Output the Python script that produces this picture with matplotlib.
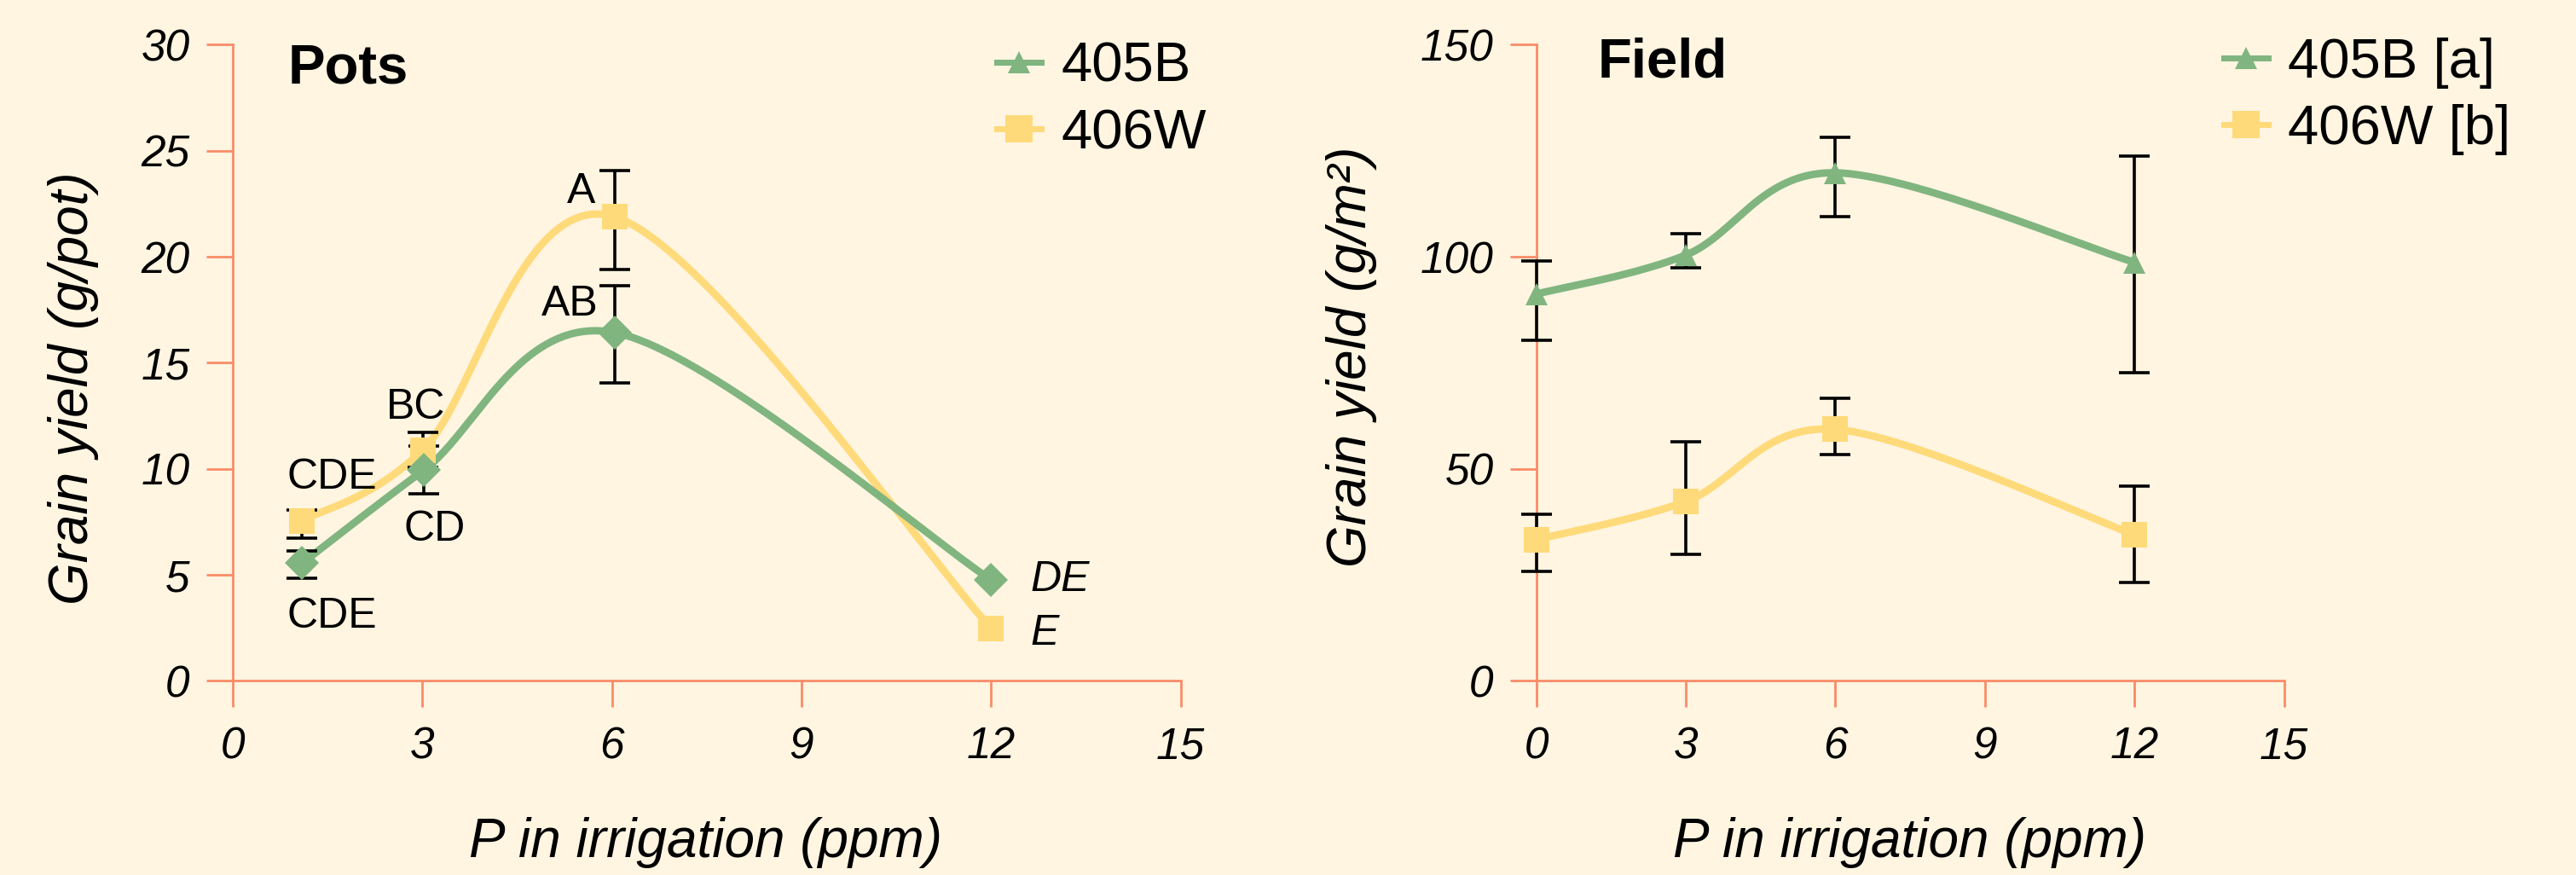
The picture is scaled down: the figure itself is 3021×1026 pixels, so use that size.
import numpy as np
import matplotlib
matplotlib.use("Agg")
import matplotlib.pyplot as plt
from matplotlib.lines import Line2D

plt.rcParams['font.family'] = ['Liberation Sans', 'DejaVu Sans']

BG = '#FFF5E1'
GREEN = '#80B580'
YELLOW = '#FFDA7A'
AXC = '#F98C68'

# ---------------- data: Pots ----------------
pots_x_405B = [1.1, 3.03, 6.05, 12.0]
pots_y_405B = [5.55, 9.95, 16.42, 4.76]
pots_lo_405B = [0.72, 1.13, 2.36, 0.0]
pots_hi_405B = [0.59, 1.13, 2.22, 0.0]

pots_x_406W = [1.1, 3.01, 6.05, 12.0]
pots_y_406W = [7.55, 10.89, 21.88, 2.48]
pots_lo_406W = [0.81, 0.83, 2.49, 0.0]
pots_hi_406W = [0.5, 0.83, 2.18, 0.0]

pots_letters = ['CDE', 'CDE', 'BC', 'CD', 'A', 'AB', 'DE', 'E']
pots_letter_pos = [(0.86, 9.05), (0.86, 2.51), (2.43, 12.35), (2.71, 6.60),
                   (5.74, 22.52), (5.79, 17.23), (12.62, 4.24), (12.62, 1.71)]
pots_letter_ha = ['left', 'left', 'left', 'left', 'right', 'right', 'left', 'left']
pots_letter_italic = [False, False, False, False, False, False, True, True]

# ---------------- data: Field ----------------
field_x = [0, 3, 6, 12]
field_y_405B = [91.2, 100.4, 119.8, 98.7]
field_lo_405B = [10.9, 3.0, 10.3, 26.1]
field_hi_405B = [7.8, 5.0, 8.4, 25.0]
field_y_406W = [33.3, 42.3, 59.3, 34.5]
field_lo_406W = [7.5, 12.5, 5.9, 11.2]
field_hi_406W = [5.9, 14.0, 7.4, 11.4]

x_ticks = [0, 3, 6, 9, 12, 15]
pots_y_ticks = [0, 5, 10, 15, 20, 25, 30]
field_y_ticks = [0, 50, 100, 150]


def catmull_rom(x, y, n=80):
    """Uniform parametric Catmull-Rom curve through the points (ends repeated)."""
    P = np.column_stack([np.asarray(x, float), np.asarray(y, float)])
    P = np.vstack([P[0], P, P[-1]])
    out = []
    t = np.linspace(0, 1, n)[:, None]
    h00 = 2 * t ** 3 - 3 * t ** 2 + 1
    h10 = t ** 3 - 2 * t ** 2 + t
    h01 = -2 * t ** 3 + 3 * t ** 2
    h11 = t ** 3 - t ** 2
    for i in range(1, len(P) - 2):
        p1, p2 = P[i], P[i + 1]
        m1 = (P[i + 1] - P[i - 1]) / 2
        m2 = (P[i + 2] - P[i]) / 2
        seg = h00 * p1 + h10 * m1 + h01 * p2 + h11 * m2
        out.append(seg if i == 1 else seg[1:])
    c = np.vstack(out)
    return c[:, 0], c[:, 1]


W, H = 3021, 1026
fig = plt.figure(figsize=(W / 100, H / 100), dpi=100)
fig.patch.set_facecolor(BG)

ax1 = fig.add_axes([272.7 / W, 1 - 798.4 / H, 1112 / W, 746 / H])
ax2 = fig.add_axes([1801.6 / W, 1 - 798.4 / H, 876.9 / W, 746 / H])

LW = 6.3
EB = dict(fmt='none', ecolor='black', elinewidth=2.6, capsize=13, capthick=2.6,
          zorder=3, clip_on=False)


def series(ax, x, y, lo, hi, color, marker, ms, z):
    xs, ys = catmull_rom(x, y)
    ax.plot(xs, ys, color=color, lw=LW, zorder=2 + z, solid_capstyle='butt',
            solid_joinstyle='round', clip_on=False)
    keep = [i for i in range(len(x)) if lo[i] > 0 or hi[i] > 0]
    eb = ax.errorbar([x[i] for i in keep], [y[i] for i in keep],
                     yerr=[[lo[i] for i in keep], [hi[i] for i in keep]], **EB)
    for c in eb.lines[1] + eb.lines[2]:
        c.set_clip_on(False)
    ax.plot(x, y, ls='none', marker=marker, ms=ms, color=color,
            markeredgewidth=0, zorder=5 + z, clip_on=False)


series(ax1, pots_x_406W, pots_y_406W, pots_lo_406W, pots_hi_406W, YELLOW, 's', 21.5, 0)
series(ax1, pots_x_405B, pots_y_405B, pots_lo_405B, pots_hi_405B, GREEN, 'D', 20.8, 0.5)

series(ax2, field_x, field_y_406W, field_lo_406W, field_hi_406W, YELLOW, 's', 21.5, 0)
series(ax2, field_x, field_y_405B, field_lo_405B, field_hi_405B, GREEN, '^', 18.5, 0.5)

for txt, (tx, ty), ha, it in zip(pots_letters, pots_letter_pos, pots_letter_ha,
                                  pots_letter_italic):
    ax1.text(tx, ty, txt, ha=ha, va='baseline', fontsize=36,
             fontstyle='italic' if it else 'normal', color='black', zorder=7)

for ax, yt, ylim in [(ax1, pots_y_ticks, 30), (ax2, field_y_ticks, 150)]:
    ax.set_facecolor(BG)
    ax.set_xlim(0, 15)
    ax.set_ylim(0, ylim)
    ax.set_xticks(x_ticks)
    ax.set_yticks(yt)
    ax.set_xticklabels([str(v) for v in x_ticks], fontstyle='italic')
    ax.set_yticklabels([str(v) for v in yt], fontstyle='italic')
    for s in ['top', 'right']:
        ax.spines[s].set_visible(False)
    for s in ['left', 'bottom']:
        ax.spines[s].set_color(AXC)
        ax.spines[s].set_linewidth(2.0)
    ax.tick_params(direction='out', length=22, width=2.0, color=AXC,
                   labelsize=37, labelcolor='black')
    ax.tick_params(axis='x', pad=16)
    ax.tick_params(axis='y', pad=14)

ax1.text(0.0587, 0.9398, 'Pots', transform=ax1.transAxes, fontsize=47,
         fontweight='bold', ha='left', va='baseline')
ax2.text(0.0819, 0.949, 'Field', transform=ax2.transAxes, fontsize=47,
         fontweight='bold', ha='left', va='baseline')

fig.text(86 / W, 1 - 455 / H, 'Grain yield (g/pot)', rotation=90, ha='center',
         va='center', fontsize=46, fontstyle='italic')
fig.text(1585 / W, 1 - 418 / H, 'Grain yield (g/m²)', rotation=90, ha='center',
         va='center', fontsize=46, fontstyle='italic')
fig.text(827 / W, 1 - 1005 / H, 'P in irrigation (ppm)', ha='center',
         va='baseline', fontsize=46, fontstyle='italic')
fig.text(2239.6 / W, 1 - 1005 / H, 'P in irrigation (ppm)', ha='center',
         va='baseline', fontsize=46, fontstyle='italic')


def legend(ax, labels, anchor):
    h1 = Line2D([], [], color=GREEN, lw=LW * 0.8, marker='^', ms=18.7,
                markeredgewidth=0)
    h2 = Line2D([], [], color=YELLOW, lw=LW * 0.8, marker='s', ms=23,
                markeredgewidth=0)
    ax.legend([h1, h2], labels, loc='upper left', bbox_to_anchor=anchor,
              bbox_transform=fig.transFigure, frameon=False, fontsize=47,
              borderpad=0, borderaxespad=0, handlelength=0.79,
              handletextpad=0.36, labelspacing=0.28, numpoints=1)


legend(ax1, ['405B', '406W'], (1169 / W, 1 - 49 / H))
legend(ax2, ['405B [a]', '406W [b]'], (2608 / W, 1 - 44 / H))

fig.savefig('out.png', dpi=100, facecolor=BG)
